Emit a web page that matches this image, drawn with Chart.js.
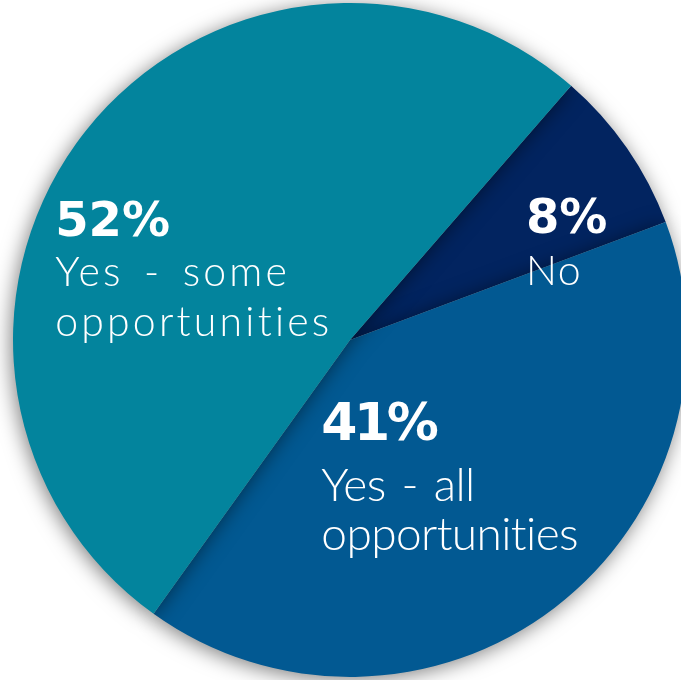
<!DOCTYPE html>
<html>
<head>
<meta charset="utf-8">
<script src="https://cdn.jsdelivr.net/npm/chart.js@4.4.1/dist/chart.umd.min.js"></script>
<style>
  html, body { margin: 0; padding: 0; background: #ffffff; overflow: hidden; }
  #wrap { position: absolute; left: 0; top: 0; width: 700px; height: 680px; }
</style>
</head>
<body>
<div id="wrap"><canvas id="c" width="700" height="680"></canvas></div>
<script>
// ---- data ----
const categories = ['No', 'Yes - all opportunities', 'Yes - some opportunities'];
const categoryLines = [['No'], ['Yes - all', 'opportunities'], ['Yes - some', 'opportunities']];
const values = [8, 41, 52];
const sliceColors = ['#022460', '#025992', '#03849D'];

// ---- label layout (relative to pie centre, in units of radius) ----
const labelLayout = [
  { dx: 0.522, dy: -0.317, pctSize: 48, pctSpacing: 0, txtSize: 41, txtSpacing: 1.5, wordSpacing: 0, pctGap: 52, lineGap: 50 },
  { dx: -0.085, dy: 0.297, pctSize: 52, pctSpacing: -3.5, txtSize: 46, txtSpacing: -0.6, wordSpacing: 4, pctGap: 61, lineGap: 49 },
  { dx: -0.875, dy: -0.309, pctSize: 48, pctSpacing: 0, txtSize: 41, txtSpacing: 3.2, wordSpacing: 6, pctGap: 50, lineGap: 50 }
];

const shadowPlugin = {
  id: 'pieShadow',
  beforeDatasetsDraw(chart) {
    const ctx = chart.ctx;
    ctx.save();
    ctx.shadowColor = 'rgba(0,0,0,0.5)';
    ctx.shadowBlur = 20;
    ctx.shadowOffsetX = -2;
    ctx.shadowOffsetY = 3;
  },
  afterDatasetsDraw(chart) {
    chart.ctx.restore();
  }
};

const labelPlugin = {
  id: 'sliceLabels',
  afterDraw(chart) {
    const ctx = chart.ctx;
    const meta = chart.getDatasetMeta(0);
    const arc = meta.data[0];
    const cx = arc.x, cy = arc.y, r = arc.outerRadius;
    ctx.save();
    ctx.fillStyle = '#ffffff';
    ctx.textAlign = 'left';
    ctx.textBaseline = 'alphabetic';
    values.forEach((v, i) => {
      const L = labelLayout[i];
      const x = cx + L.dx * r;
      let y = cy + L.dy * r;
      ctx.font = 'bold ' + L.pctSize + 'px "DejaVu Sans"';
      ctx.letterSpacing = L.pctSpacing + 'px';
      ctx.wordSpacing = '0px';
      ctx.fillText(v + '%', x, y);
      ctx.font = '300 ' + L.txtSize + 'px Lato';
      ctx.letterSpacing = L.txtSpacing + 'px';
      ctx.wordSpacing = L.wordSpacing + 'px';
      y += L.pctGap;
      categoryLines[i].forEach((line, k) => {
        ctx.fillText(line, x, y + k * L.lineGap);
      });
    });
    ctx.restore();
  }
};

new Chart(document.getElementById('c'), {
  type: 'pie',
  data: {
    labels: categories,
    datasets: [{
      data: values,
      backgroundColor: sliceColors,
      borderWidth: 0,
      clip: false
    }]
  },
  options: {
    responsive: false,
    animation: false,
    rotation: 41,
    layout: { padding: { left: 13, right: 13, top: 3, bottom: 3 } },
    plugins: {
      legend: { display: false },
      tooltip: { enabled: false }
    }
  },
  plugins: [shadowPlugin, labelPlugin]
});
</script>
</body>
</html>
